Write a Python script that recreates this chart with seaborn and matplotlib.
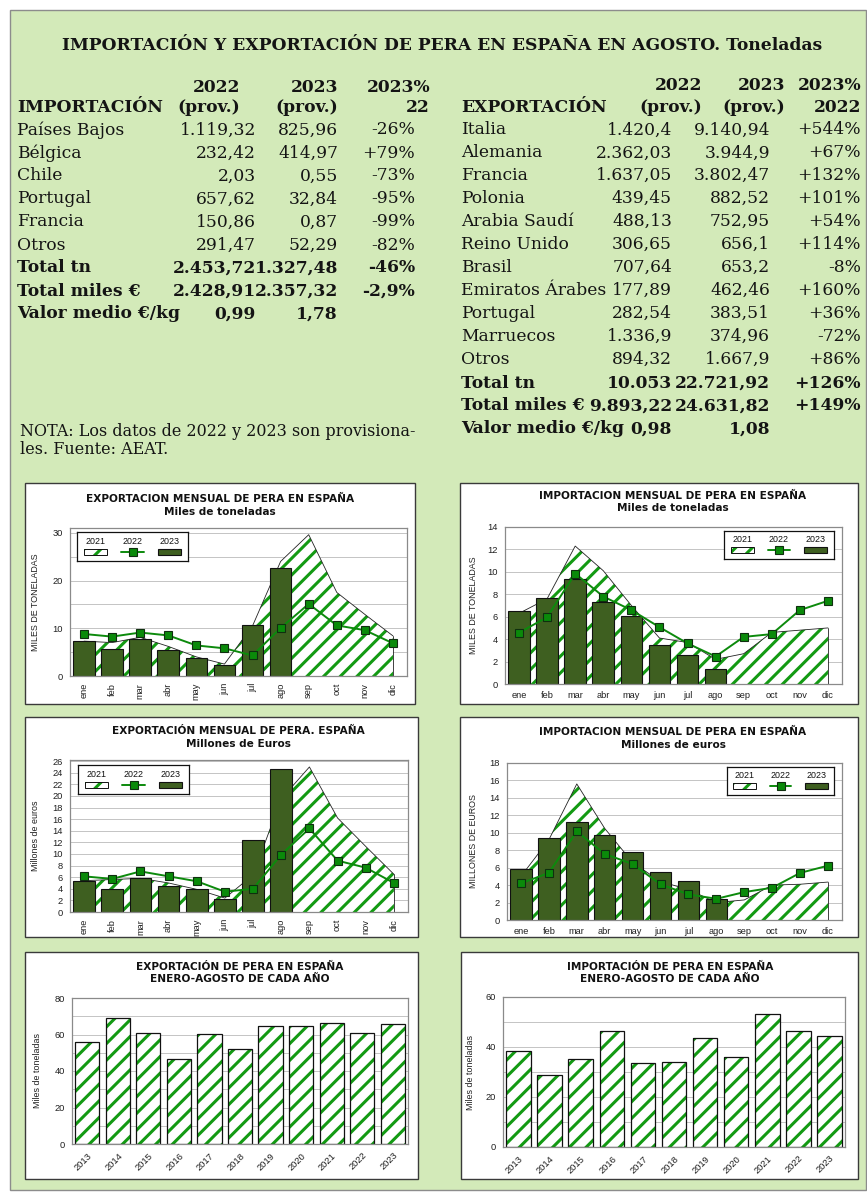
import numpy as np
import pandas as pd
import matplotlib
matplotlib.use("Agg")
import matplotlib.pyplot as plt
from matplotlib.patches import Rectangle
from matplotlib.lines import Line2D
import seaborn as sns

# ------------------------------------------------------------------ data
meses = ["ene", "feb", "mar", "abr", "may", "jun", "jul", "ago", "sep", "oct", "nov", "dic"]
anos = ["2013", "2014", "2015", "2016", "2017", "2018", "2019", "2020", "2021", "2022", "2023"]

# exportación mensual, miles de toneladas
exp_tn_2021 = [7.3, 7.0, 8.1, 6.2, 4.0, 2.5, 10.5, 24.0, 29.6, 17.5, 12.9, 8.4]
exp_tn_2022 = [8.8, 8.25, 9.1, 8.5, 6.4, 5.8, 4.3, 10.05, 15.1, 10.6, 9.6, 6.85]
exp_tn_2023 = [7.4, 5.7, 7.8, 5.5, 3.8, 2.3, 10.6, 22.72]

# importación mensual, miles de toneladas
imp_tn_2021 = [6.3, 7.6, 12.3, 10.1, 7.0, 4.1, 3.7, 2.2, 2.7, 4.6, 4.8, 5.0]
imp_tn_2022 = [4.57, 5.96, 9.85, 7.8, 6.59, 5.07, 3.62, 2.45, 4.2, 4.45, 6.59, 7.42]
imp_tn_2023 = [6.5, 7.7, 9.4, 7.3, 6.05, 3.44, 2.55, 1.33]

# exportación mensual, millones de euros
exp_eur_2021 = [5.4, 5.6, 5.8, 5.0, 3.9, 2.4, 6.4, 19.5, 25.0, 16.2, 11.3, 6.5]
exp_eur_2022 = [6.15, 5.7, 7.0, 6.15, 5.3, 3.5, 4.0, 9.89, 14.4, 8.85, 7.64, 5.0]
exp_eur_2023 = [5.3, 4.0, 5.9, 4.5, 4.0, 2.25, 12.4, 24.63]

# importación mensual, millones de euros
imp_eur_2021 = [5.0, 9.2, 15.6, 10.5, 6.6, 4.4, 3.5, 2.0, 2.3, 4.0, 4.1, 4.35]
imp_eur_2022 = [4.2, 5.4, 10.16, 7.57, 6.42, 4.09, 2.94, 2.43, 3.2, 3.7, 5.4, 6.23]
imp_eur_2023 = [5.9, 9.4, 11.2, 9.7, 7.8, 5.5, 4.5, 2.36]

# enero-agosto de cada año, miles de toneladas
exp_ene_ago = [56.0, 69.1, 60.9, 46.5, 60.4, 51.8, 64.5, 64.5, 66.2, 60.9, 65.5]
imp_ene_ago = [38.5, 28.9, 35.3, 46.3, 33.5, 34.1, 43.7, 36.0, 53.3, 46.3, 44.5]

# tablas de agosto
imp_paises = ["Países Bajos", "Bélgica", "Chile", "Portugal", "Francia", "Otros"]
imp_2022 = ["1.119,32", "232,42", "2,03", "657,62", "150,86", "291,47"]
imp_2023 = ["825,96", "414,97", "0,55", "32,84", "0,87", "52,29"]
imp_var = ["-26%", "+79%", "-73%", "-95%", "-99%", "-82%"]
imp_tot_lab = ["Total tn", "Total miles €", "Valor medio €/kg"]
imp_tot_2022 = ["2.453,72", "2.428,91", "0,99"]
imp_tot_2023 = ["1.327,48", "2.357,32", "1,78"]
imp_tot_var = ["-46%", "-2,9%", ""]

exp_paises = ["Italia", "Alemania", "Francia", "Polonia", "Arabia Saudí", "Reino Unido",
              "Brasil", "Emiratos Árabes", "Portugal", "Marruecos", "Otros"]
exp_2022 = ["1.420,4", "2.362,03", "1.637,05", "439,45", "488,13", "306,65",
            "707,64", "177,89", "282,54", "1.336,9", "894,32"]
exp_2023 = ["9.140,94", "3.944,9", "3.802,47", "882,52", "752,95", "656,1",
            "653,2", "462,46", "383,51", "374,96", "1.667,9"]
exp_var = ["+544%", "+67%", "+132%", "+101%", "+54%", "+114%",
           "-8%", "+160%", "+36%", "-72%", "+86%"]
exp_tot_lab = ["Total tn", "Total miles €", "Valor medio €/kg"]
exp_tot_2022 = ["10.053", "9.893,22", "0,98"]
exp_tot_2023 = ["22.721,92", "24.631,82", "1,08"]
exp_tot_var = ["+126%", "+149%", ""]

# ------------------------------------------------------------------ style
BG = "#d3eab9"
HATCH = "#139a13"
BAR = "#3e5f20"
LINE = "#0c8a0c"
MARK = "#0a8a0a"
SERIF = "DejaVu Serif"
INK = "#141414"

sns.set_style("white")
plt.rcParams["font.family"] = ["Liberation Sans", "DejaVu Sans"]
plt.rcParams["hatch.linewidth"] = 2.2
plt.rcParams["hatch.color"] = HATCH

W, H = 867, 1193
fig = plt.figure(figsize=(W / 100, H / 100), dpi=100)
fig.patch.set_facecolor("white")


def frac_box(l, t, r, b):
    return [l / W, 1 - b / H, (r - l) / W, (b - t) / H]


def fig_rect(l, t, r, b, **kw):
    fig.add_artist(Rectangle((l / W, 1 - b / H), (r - l) / W, (b - t) / H,
                             transform=fig.transFigure, **kw))


def ftext(x, y, s, ha="left", bold=False, size=12.3, family=SERIF, **kw):
    fig.text(x / W, 1 - y / H, s, ha=ha, va="center", fontsize=size,
             fontweight="bold" if bold else "normal", family=family, color=INK, **kw)


# green page and white chart panels
fig_rect(10, 10, 866, 1190, facecolor=BG, edgecolor="#8c8c8c", lw=1.0, zorder=-3)
for box in [(25, 483, 415, 704), (460, 483, 858, 704),
            (25, 717, 418, 937), (460, 717, 858, 937),
            (25, 952, 418, 1179), (461, 952, 858, 1179)]:
    fig_rect(*box, facecolor="white", edgecolor="#3a3a3a", lw=1.0, zorder=-2)

# ------------------------------------------------------------------ tables
ftext(442, 45, "IMPORTACIÓN Y EXPORTACIÓN DE PERA EN ESPAÑA EN AGOSTO. Toneladas",
      ha="center", bold=True, size=12.3)

# importación
ftext(240, 87, "2022", ha="right", bold=True)
ftext(338, 87, "2023", ha="right", bold=True)
ftext(430, 87, "2023%", ha="right", bold=True)
ftext(17, 108, "IMPORTACIÓN", bold=True)
ftext(240, 108, "(prov.)", ha="right", bold=True)
ftext(338, 108, "(prov.)", ha="right", bold=True)
ftext(430, 108, "22", ha="right", bold=True)
for i, (p, a, b, v) in enumerate(zip(imp_paises, imp_2022, imp_2023, imp_var)):
    y = 130 + 23 * i
    ftext(17, y, p)
    ftext(256, y, a, ha="right")
    ftext(338, y, b, ha="right")
    ftext(415, y, v, ha="right")
for i, (p, a, b, v) in enumerate(zip(imp_tot_lab, imp_tot_2022, imp_tot_2023, imp_tot_var)):
    y = 268 + 23 * i
    ftext(17, y, p, bold=True)
    ftext(256, y, a, ha="right", bold=True)
    ftext(338, y, b, ha="right", bold=True)
    ftext(415, y, v, ha="right", bold=True)

ftext(20, 431, "NOTA: Los datos de 2022 y 2023 son provisiona-", size=11.5)
ftext(20, 450, "les. Fuente: AEAT.", size=11.5)

# exportación
ftext(702, 86, "2022", ha="right", bold=True)
ftext(785, 86, "2023", ha="right", bold=True)
ftext(861, 86, "2023%", ha="right", bold=True)
ftext(461, 108, "EXPORTACIÓN", bold=True)
ftext(702, 108, "(prov.)", ha="right", bold=True)
ftext(785, 108, "(prov.)", ha="right", bold=True)
ftext(861, 108, "2022", ha="right", bold=True)
for i, (p, a, b, v) in enumerate(zip(exp_paises, exp_2022, exp_2023, exp_var)):
    y = 130 + 22.9 * i
    ftext(461, y, p)
    ftext(672, y, a, ha="right")
    ftext(770, y, b, ha="right")
    ftext(861, y, v, ha="right")
for i, (p, a, b, v) in enumerate(zip(exp_tot_lab, exp_tot_2022, exp_tot_2023, exp_tot_var)):
    y = 383 + 22.9 * i
    ftext(461, y, p, bold=True)
    ftext(672, y, a, ha="right", bold=True)
    ftext(770, y, b, ha="right", bold=True)
    ftext(861, y, v, ha="right", bold=True)


# ------------------------------------------------------------------ charts
def style_axes(ax):
    ax.set_facecolor("white")
    for s in ax.spines.values():
        s.set_color("#8a8a8a")
        s.set_linewidth(0.9)
    ax.set_axisbelow(True)
    ax.tick_params(axis="both", length=3, width=0.6, color="#8a8a8a",
                   labelsize=6.7, pad=2, labelcolor="#202020")
    ax.set_xlabel("")


def chart_title(x, y1, y2, t1, t2):
    for y, t in [(y1, t1), (y2, t2)]:
        fig.text(x / W, 1 - y / H, t, ha="center", va="center", fontsize=7.6,
                 fontweight="bold", family="DejaVu Sans", color="#111111")


def legend_box(lbox):
    lg = fig.add_axes(frac_box(*lbox))
    lg.set_xlim(0, 3)
    lg.set_ylim(0, 1)
    lg.set_xticks([])
    lg.set_yticks([])
    lg.set_facecolor("white")
    for s in lg.spines.values():
        s.set_color("#111111")
        s.set_linewidth(0.9)
    for i, t in enumerate(["2021", "2022", "2023"]):
        lg.text(i + 0.5, 0.68, t, ha="center", va="center", fontsize=6.4, color="#111111")
    lg.add_patch(Rectangle((0.18, 0.2), 0.64, 0.22, facecolor="white", edgecolor=HATCH,
                           hatch="//", lw=0))
    lg.add_patch(Rectangle((0.18, 0.2), 0.64, 0.22, fill=False, edgecolor="#111111", lw=0.7))
    lg.add_line(Line2D([1.2, 1.5, 1.8], [0.31, 0.31, 0.31], color=LINE, lw=1.4, marker="s",
                       markevery=[1], markersize=5.8, markerfacecolor=MARK,
                       markeredgecolor="#0f2f0f", markeredgewidth=0.8))
    lg.add_patch(Rectangle((2.18, 0.2), 0.64, 0.22, facecolor=BAR, edgecolor="#111111", lw=0.8))


def monthly(box, ymax, ytop, ystep, gstep, a21, l22, b23, ylabel, ylab_x, vertical, lbox):
    ax = fig.add_axes(frac_box(*box))
    x = np.arange(len(meses))
    # 2021: hatched area
    ax.fill_between(x, 0, a21, facecolor="white", edgecolor=HATCH, hatch="//",
                    linewidth=0, zorder=1)
    ax.plot(x, a21, color="#222222", lw=0.6, zorder=1.2)
    ax.plot([x[-1], x[-1]], [0, a21[-1]], color="#222222", lw=0.6, zorder=1.2)
    # 2023: solid bars
    d23 = pd.DataFrame({"mes": meses[:len(b23)], "v": b23})
    sns.barplot(data=d23, x="mes", y="v", order=meses, color=BAR, saturation=1,
                edgecolor="#111111", linewidth=0.8, width=0.77, ax=ax, zorder=2)
    # 2022: line with square markers
    sns.lineplot(x=x, y=l22, ax=ax, color=LINE, lw=1.4, marker="s", markersize=5.8,
                 markerfacecolor=MARK, markeredgecolor="#0f2f0f", markeredgewidth=0.8,
                 zorder=3)
    ax.set_xlim(-0.5, 11.5)
    ax.set_ylim(0, ytop)
    ax.set_yticks(np.arange(0, ymax + 0.001, ystep))
    ax.set_yticks(np.arange(0, ymax + 0.001, gstep), minor=True)
    ax.yaxis.grid(True, which="both", color="#c4c4c4", lw=0.7)
    ax.tick_params(axis="y", which="minor", length=0)
    ax.set_xticks(x)
    ax.set_xticklabels(meses, rotation=90 if vertical else 0)
    style_axes(ax)
    ax.set_ylabel(ylabel, fontsize=6.4, color="#202020")
    ax.yaxis.set_label_coords((ylab_x - box[0]) / (box[2] - box[0]), 0.5)
    legend_box(lbox)
    return ax


def yearly(box, vals, ymax, ystep, gstep, ylab_x):
    ax = fig.add_axes(frac_box(*box))
    d = pd.DataFrame({"ano": anos, "v": vals})
    sns.barplot(data=d, x="ano", y="v", color="white", saturation=1, edgecolor=HATCH,
                hatch="//", linewidth=0, width=0.79, ax=ax, zorder=2)
    for p in list(ax.patches):
        ax.add_patch(Rectangle(p.get_xy(), p.get_width(), p.get_height(), fill=False,
                               edgecolor="#111111", lw=0.9, zorder=2.5))
    ax.set_xlim(-0.5, len(anos) - 0.5)
    ax.set_ylim(0, ymax)
    ax.set_yticks(np.arange(0, ymax + 0.001, ystep))
    ax.set_yticks(np.arange(0, ymax + 0.001, gstep), minor=True)
    ax.yaxis.grid(True, which="both", color="#c4c4c4", lw=0.7)
    ax.tick_params(axis="y", which="minor", length=0)
    style_axes(ax)
    ax.set_xticks(np.arange(len(anos)))
    ax.set_xticklabels(anos, rotation=45, ha="right", rotation_mode="anchor")
    ax.set_ylabel("Miles de toneladas", fontsize=6.4, color="#202020")
    ax.yaxis.set_label_coords((ylab_x - box[0]) / (box[2] - box[0]), 0.5)
    return ax


monthly((70, 528, 407, 676), 30, 31, 10, 5, exp_tn_2021, exp_tn_2022, exp_tn_2023,
        "MILES DE TONELADAS", 40, True, (77, 532, 188, 561))
chart_title(220, 499, 512, "EXPORTACION MENSUAL DE PERA EN ESPAÑA", "Miles de toneladas")

monthly((505, 527, 842, 684), 14, 14, 2, 2, imp_tn_2021, imp_tn_2022, imp_tn_2023,
        "MILES DE TONELADAS", 478, False, (724, 531, 834, 559))
chart_title(673, 496, 508, "IMPORTACION MENSUAL DE PERA EN ESPAÑA", "Miles de toneladas")

monthly((70, 760, 408, 912), 26, 26.2, 2, 2, exp_eur_2021, exp_eur_2022, exp_eur_2023,
        "Millones de euros", 40, True, (78, 765, 189, 794))
chart_title(238, 731, 744, "EXPORTACIÓN MENSUAL DE PERA. ESPAÑA", "Millones de Euros")

monthly((507, 763, 842, 920), 18, 18, 2, 2, imp_eur_2021, imp_eur_2022, imp_eur_2023,
        "MILLONES DE EUROS", 478, False, (727, 767, 834, 795))
chart_title(673, 732, 745, "IMPORTACION MENSUAL DE PERA EN ESPAÑA", "Millones de euros")

yearly((72, 998, 408, 1144), exp_ene_ago, 80, 20, 10, 42)
chart_title(240, 967, 979, "EXPORTACIÓN DE PERA EN ESPAÑA", "ENERO-AGOSTO DE CADA AÑO")

yearly((503, 997, 845, 1147), imp_ene_ago, 60, 20, 10, 475)
chart_title(670, 967, 979, "IMPORTACIÓN DE PERA EN ESPAÑA", "ENERO-AGOSTO DE CADA AÑO")

fig.savefig("out.png", dpi=100, facecolor="white")
